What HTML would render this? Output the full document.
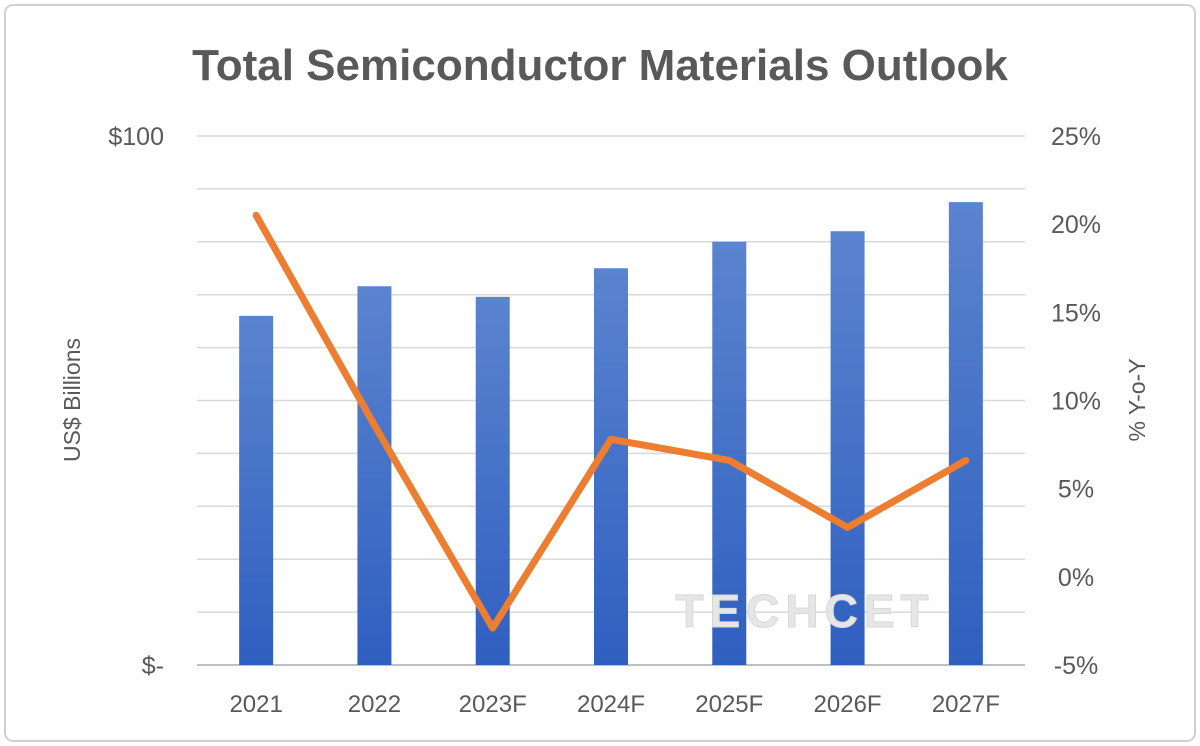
<!DOCTYPE html>
<html><head><meta charset="utf-8"><style>
body{margin:0;background:#fff;}
svg{display:block;font-family:"Liberation Sans",sans-serif;}
</style></head><body>
<svg id="chart" width="1200" height="746" viewBox="0 0 1200 746">
<defs><linearGradient id="bg" x1="0" y1="0" x2="0" y2="1"><stop offset="0" stop-color="#5b84cf"/><stop offset="1" stop-color="#2f5fc0"/></linearGradient></defs>
<rect x="5" y="5" width="1190" height="736" rx="8" fill="#fff" stroke="#d0d0d0" stroke-width="2"/>
<text x="600" y="80" text-anchor="middle" font-size="44" font-weight="bold" fill="#595959">Total Semiconductor Materials Outlook</text>
<text transform="translate(80,400) rotate(-90)" text-anchor="middle" font-size="23" fill="#595959">US$ Billions</text>
<text transform="translate(1145,400) rotate(-90)" text-anchor="middle" font-size="23" fill="#595959">% Y-o-Y</text>
<g id="grid"></g><g id="bars"></g>
<text x="805" y="627" text-anchor="middle" font-size="46" font-weight="bold" fill="#e6e6e6" stroke="#d8d8d8" letter-spacing="6">TECHCET</text>
<g id="line"></g><g id="labels"></g>
</svg>
<script>
const categories=["2021","2022","2023F","2024F","2025F","2026F","2027F"];
const revenue=[66,71.6,69.6,75,80,82,87.5];
const growth=[20.5,8.6,-2.9,7.8,6.6,2.8,6.6];
const leftTicks=["$-","$100"];
const rightTicks=[-5,0,5,10,15,20,25];
const ns="http://www.w3.org/2000/svg";
const L=197,R=1025,T=136,B=665;
const bw=(R-L)/categories.length;
const xc=i=>L+bw*(i+0.5);
const yL=v=>B-(v/100)*(B-T);
const yR=v=>B-((v+5)/30)*(B-T);
function mk(t,a,p){const e=document.createElementNS(ns,t);for(const k in a)e.setAttribute(k,a[k]);document.getElementById(p).appendChild(e);return e;}
for(let v=0;v<=100;v+=10){const g=mk("line",{x1:L,x2:R,y1:yL(v),y2:yL(v),stroke:v===0?"#bfbfbf":"#d9d9d9","stroke-width":v===0?2:1.5},"grid");

}
const lt=[0,100];
lt.forEach((v,i)=>{const t=mk("text",{x:164,y:yL(v)+9,"text-anchor":"end","font-size":25,fill:"#595959"},"labels");t.textContent=leftTicks[i];

});
rightTicks.forEach(v=>{const t=mk("text",{x:1076,y:yR(v)+9,"text-anchor":"middle","font-size":25,fill:"#595959"},"labels");t.textContent=v+"%";

});
categories.forEach((c,i)=>{
const b=mk("rect",{x:xc(i)-17,y:yL(revenue[i]),width:34,height:B-yL(revenue[i]),fill:"url(#bg)"},"bars");


const t=mk("text",{x:xc(i),y:712,"text-anchor":"middle","font-size":24,fill:"#595959"},"labels");t.textContent=c;

});
const p=mk("polyline",{points:growth.map((g,i)=>xc(i)+","+yR(g)).join(" "),fill:"none",stroke:"#ed7d31","stroke-width":7,"stroke-linejoin":"round","stroke-linecap":"round"},"line");


</script>
</body></html>
